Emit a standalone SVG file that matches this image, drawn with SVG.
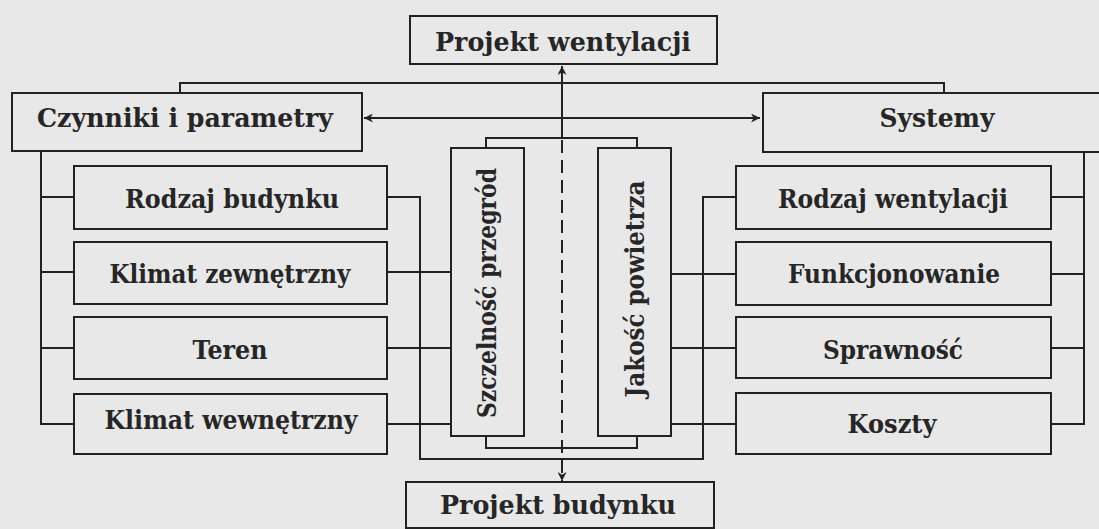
<svg xmlns="http://www.w3.org/2000/svg" width="1099" height="529" viewBox="0 0 1099 529">
  <defs>
    <marker id="arrow" viewBox="0 0 10 10" refX="10" refY="5" markerWidth="9" markerHeight="9" markerUnits="userSpaceOnUse" orient="auto">
      <path d="M0,0 L10,5 L0,10 L3,5 Z" fill="#222"/>
    </marker>
    <style>
      .box { fill: none; stroke: #222; stroke-width: 2; }
      .line { fill: none; stroke: #222; stroke-width: 2; }
      .dash { fill: none; stroke: #222; stroke-width: 2; stroke-dasharray: 13 7; }
      .lbl { font-family: "DejaVu Serif", "Liberation Serif", serif; font-weight: bold; font-size: 26px; fill: #262626; text-anchor: middle; }
    </style>
  </defs>

  <rect x="0" y="0" width="1099" height="529" fill="#e8e8e8"/>

  <!-- connectors -->
  <g id="connectors">
    <!-- top bracket between the two main groups -->
    <polyline class="line" points="180,93 180,83 944,83 944,93"/>
    <!-- bidirectional arrow between factors and systems -->
    <line class="line" x1="562" y1="118" x2="364" y2="118" marker-end="url(#arrow)"/>
    <line class="line" x1="562" y1="118" x2="760" y2="118" marker-end="url(#arrow)"/>
    <!-- central axis: solid up to the ventilation design, dashed down to the building design -->
    <line class="line" x1="562" y1="138" x2="562" y2="66" marker-end="url(#arrow)"/>
    <line class="dash" x1="562" y1="140" x2="562" y2="481" marker-end="url(#arrow)"/>
    <!-- brackets joining the two vertical boxes -->
    <polyline class="line" points="486,148 486,138 637,138 637,148"/>
    <polyline class="line" points="486,436 486,448 637,448 637,436"/>

    <!-- left tree -->
    <polyline class="line" points="41,151 41,424"/>
    <line class="line" x1="41" y1="197" x2="74" y2="197"/>
    <line class="line" x1="41" y1="272" x2="74" y2="272"/>
    <line class="line" x1="41" y1="348" x2="74" y2="348"/>
    <line class="line" x1="40" y1="424" x2="74" y2="424"/>
    <polyline class="line" points="387,197 420,197 420,459 703,459 703,197 736,197"/>
    <line class="line" x1="387" y1="272" x2="451" y2="272"/>
    <line class="line" x1="387" y1="348" x2="451" y2="348"/>
    <line class="line" x1="387" y1="424" x2="451" y2="424"/>

    <!-- right tree -->
    <polyline class="line" points="1084,152 1084,424"/>
    <line class="line" x1="1051" y1="197" x2="1084" y2="197"/>
    <line class="line" x1="1051" y1="274" x2="1084" y2="274"/>
    <line class="line" x1="1051" y1="348" x2="1084" y2="348"/>
    <line class="line" x1="1051" y1="424" x2="1085" y2="424"/>
    <line class="line" x1="671" y1="274" x2="736" y2="274"/>
    <line class="line" x1="671" y1="348" x2="736" y2="348"/>
    <line class="line" x1="671" y1="424" x2="736" y2="424"/>
  </g>

  <!-- top and bottom design boxes -->
  <g id="projekt-wentylacji">
    <rect class="box" x="410" y="16" width="307" height="48"/>
    <text class="lbl" x="563" y="51" textLength="256" lengthAdjust="spacingAndGlyphs">Projekt wentylacji</text>
  </g>
  <g id="projekt-budynku">
    <rect class="box" x="406" y="482" width="308" height="46"/>
    <text class="lbl" x="558" y="514" textLength="236" lengthAdjust="spacingAndGlyphs">Projekt budynku</text>
  </g>

  <!-- main group headers -->
  <g id="czynniki">
    <rect class="box" x="12" y="93" width="350" height="58"/>
    <text class="lbl" x="185" y="127" textLength="296" lengthAdjust="spacingAndGlyphs">Czynniki i parametry</text>
  </g>
  <g id="systemy">
    <rect class="box" x="763" y="93" width="350" height="59"/>
    <text class="lbl" x="937" y="127" textLength="115" lengthAdjust="spacingAndGlyphs">Systemy</text>
  </g>

  <!-- left column -->
  <g id="rodzaj-budynku">
    <rect class="box" x="74" y="166" width="313" height="63"/>
    <text class="lbl" x="232" y="208" textLength="214" lengthAdjust="spacingAndGlyphs">Rodzaj budynku</text>
  </g>
  <g id="klimat-zewnetrzny">
    <rect class="box" x="74" y="242" width="313" height="62"/>
    <text class="lbl" x="230" y="283" textLength="241" lengthAdjust="spacingAndGlyphs">Klimat zewnętrzny</text>
  </g>
  <g id="teren">
    <rect class="box" x="74" y="317" width="313" height="62"/>
    <text class="lbl" x="230" y="359" textLength="75" lengthAdjust="spacingAndGlyphs">Teren</text>
  </g>
  <g id="klimat-wewnetrzny">
    <rect class="box" x="74" y="394" width="313" height="60"/>
    <text class="lbl" x="231" y="429" textLength="253" lengthAdjust="spacingAndGlyphs">Klimat wewnętrzny</text>
  </g>

  <!-- central vertical boxes -->
  <g id="szczelnosc">
    <rect class="box" x="451" y="148" width="73" height="288"/>
    <text class="lbl" transform="translate(496,293) rotate(-90)" x="0" y="0" textLength="250" lengthAdjust="spacingAndGlyphs">Szczelność przegród</text>
  </g>
  <g id="jakosc">
    <rect class="box" x="598" y="148" width="73" height="288"/>
    <text class="lbl" transform="translate(644,289) rotate(-90)" x="0" y="0" textLength="217" lengthAdjust="spacingAndGlyphs">Jakość powietrza</text>
  </g>

  <!-- right column -->
  <g id="rodzaj-wentylacji">
    <rect class="box" x="736" y="166" width="315" height="63"/>
    <text class="lbl" x="893" y="208" textLength="230" lengthAdjust="spacingAndGlyphs">Rodzaj wentylacji</text>
  </g>
  <g id="funkcjonowanie">
    <rect class="box" x="736" y="242" width="315" height="63"/>
    <text class="lbl" x="894" y="283" textLength="212" lengthAdjust="spacingAndGlyphs">Funkcjonowanie</text>
  </g>
  <g id="sprawnosc">
    <rect class="box" x="736" y="317" width="315" height="61"/>
    <text class="lbl" x="893" y="359" textLength="140" lengthAdjust="spacingAndGlyphs">Sprawność</text>
  </g>
  <g id="koszty">
    <rect class="box" x="736" y="393" width="315" height="61"/>
    <text class="lbl" x="892" y="433" textLength="89" lengthAdjust="spacingAndGlyphs">Koszty</text>
  </g>
</svg>
